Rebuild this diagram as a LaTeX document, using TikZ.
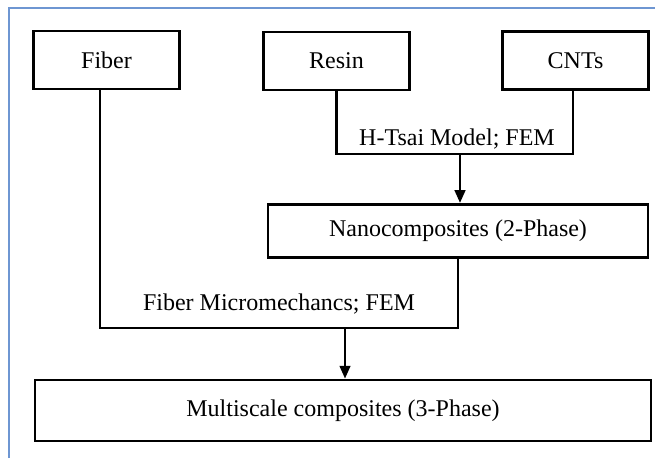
\documentclass[tikz,border=0pt]{standalone}
\usepackage{fontspec}
\setmainfont{Liberation Serif}
\usetikzlibrary{arrows.meta}

\definecolor{framecol}{RGB}{110,150,210}

\begin{document}
\begin{tikzpicture}[
			x=0.75pt, y=-0.75pt,
			base/.style={draw, line width=2.2pt, font=\fontsize{18}{22}\selectfont},
			box/.style={base, minimum width=110pt, minimum height=43.5pt},
			widebox/.style={base, minimum height=40pt},
			line/.style={line width=1.6pt},
			arrow/.style={line, -{Triangle[length=9.5pt, width=8pt]}},
			lbl/.style={font=\fontsize{18}{22}\selectfont, inner sep=0pt},
		]

		\useasboundingbox (0,0) rectangle (655,458);
		\draw[framecol, line width=1pt] (9,458) -- (9,8) -- (655,8);

		\node[box] (fiber) at (106.5,60) {Fiber};
		\node[box] (resin) at (336.5,61) {Resin};
		\node[box] (cnts) at (575.5,60.5) {CNTs};
		\node[widebox, minimum width=285pt] (nano) at (458,231) {Nanocomposites (2-Phase)};
		\node[widebox, minimum width=462pt, minimum height=45.75pt] (multi) at (343,410.5) {Multiscale composites (3-Phase)};

		\coordinate (tsai) at (460,154);
		\coordinate (micro) at (345,328);

		\draw[line] (resin.south) |- (tsai) -| ([xshift=-2pt]cnts.south);
		\draw[arrow] (tsai) -- (nano.north -| tsai);
		\node[lbl] (tsailabel) at (457,139) {H-Tsai Model; FEM};

		\draw[line] ([xshift=-5pt]fiber.south) |- (micro) -| (nano.south);
		\draw[arrow] (micro) -- (multi.north -| micro);
		\node[lbl] (microlabel) at (279,304) {Fiber Micromechancs; FEM};

		\end{tikzpicture}
\end{document}
